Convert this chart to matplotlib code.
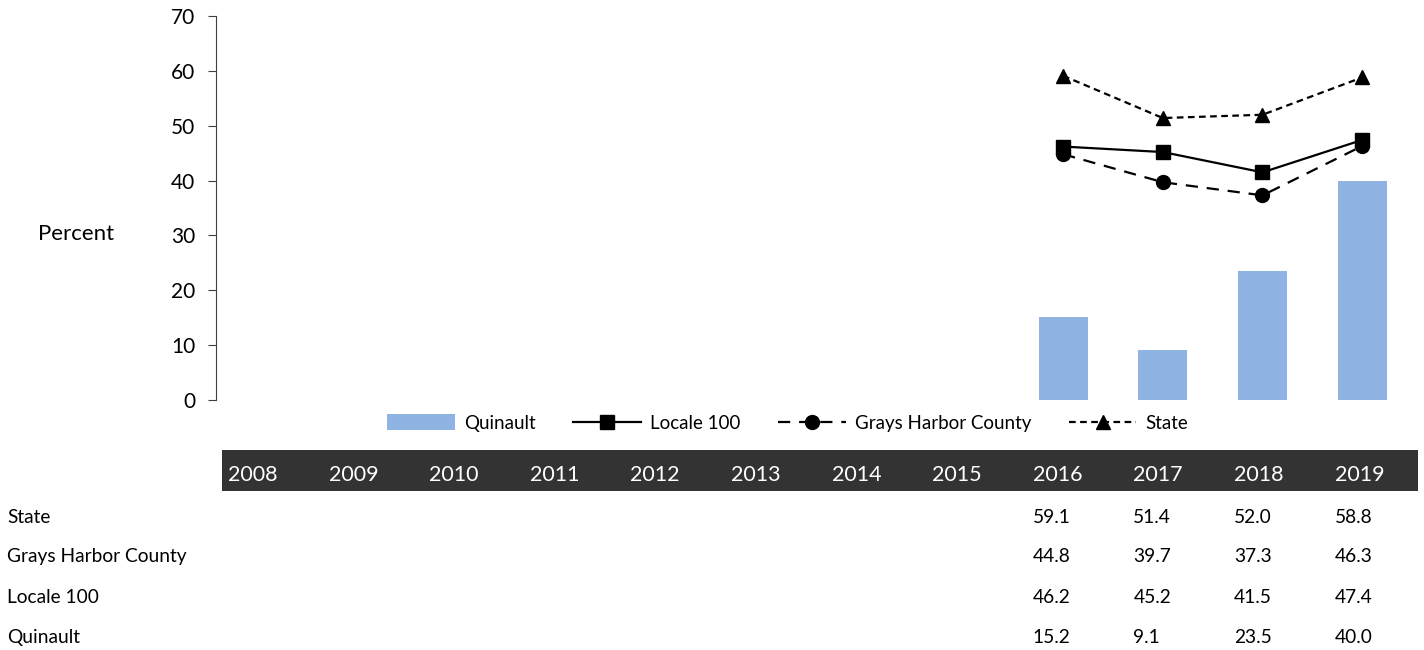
import numpy as np
import matplotlib
matplotlib.use("Agg")
import matplotlib.pyplot as plt
from matplotlib.patches import Rectangle

plt.rcParams["font.family"] = ["Lato", "DejaVu Sans"]

years = ["2008", "2009", "2010", "2011", "2012", "2013",
         "2014", "2015", "2016", "2017", "2018", "2019"]
nan = np.nan
quinault = [nan, nan, nan, nan, nan, nan, nan, nan, 15.2, 9.1, 23.5, 40.0]
locale_100 = [nan, nan, nan, nan, nan, nan, nan, nan, 46.2, 45.2, 41.5, 47.4]
grays_harbor = [nan, nan, nan, nan, nan, nan, nan, nan, 44.8, 39.7, 37.3, 46.3]
state = [nan, nan, nan, nan, nan, nan, nan, nan, 59.1, 51.4, 52.0, 58.8]

W, H = 1424, 650
fig = plt.figure(figsize=(W / 100, H / 100), dpi=100)
ax = fig.add_axes([216 / W, 1 - 400 / H, 1196 / W, 384 / H])

x = np.arange(len(years))
q = np.array(quinault)
ok = ~np.isnan(q)
bars = ax.bar(x[ok], q[ok], width=0.49, color="#8FB4E3", label="Quinault", zorder=1)

l1, = ax.plot(x, locale_100, color="black", lw=1.6, marker="s", ms=10,
              label="Locale 100", zorder=3)
l2, = ax.plot(x, grays_harbor, color="black", lw=1.6, marker="o", ms=10,
              dashes=(5.5, 4), label="Grays Harbor County", zorder=3)
l3, = ax.plot(x, state, color="black", lw=1.6, marker="^", ms=10,
              dashes=(3, 2), label="State", zorder=3)

ax.set_xlim(-0.5, len(years) - 0.5)
ax.set_ylim(0, 70)
ax.set_yticks(range(0, 71, 10))
ax.set_xticks([])
for s in ["top", "right", "bottom"]:
    ax.spines[s].set_visible(False)
ax.spines["left"].set_color("#404040")
ax.tick_params(axis="y", direction="out", length=6, color="#404040",
               pad=9, labelsize=15)

fig.text(38 / W, 1 - 234 / H, "Percent", fontsize=16, va="center", ha="left")

ax.legend([bars, l1, l2, l3], ["Quinault", "Locale 100", "Grays Harbor County", "State"],
          loc="center", bbox_to_anchor=(788 / W, 1 - 423 / H),
          bbox_transform=fig.transFigure, ncol=4, frameon=False,
          fontsize=13.5, handlelength=3.6, handletextpad=0.5,
          columnspacing=2.0, handleheight=0.9)

# data table under the chart
fig.add_artist(Rectangle((222 / W, 1 - 491 / H), 1196 / W, 41 / H,
                         transform=fig.transFigure, color="#333333", lw=0))
col_x = [228 + i * 100.6 for i in range(len(years))]
for cx, yr in zip(col_x, years):
    fig.text(cx / W, 1 - 481 / H, yr, color="white", fontsize=15.5,
             ha="left", va="baseline")

rows = [("State", state, 523), ("Grays Harbor County", grays_harbor, 562),
        ("Locale 100", locale_100, 603), ("Quinault", quinault, 643)]
for name, vals, base in rows:
    fig.text(7 / W, 1 - base / H, name, fontsize=13.8, ha="left", va="baseline")
    for cx, v in zip(col_x, vals):
        if not np.isnan(v):
            fig.text(cx / W, 1 - base / H, f"{v:.1f}", fontsize=13.8,
                     ha="left", va="baseline")

fig.savefig("out.png", dpi=100)
plt.close(fig)
